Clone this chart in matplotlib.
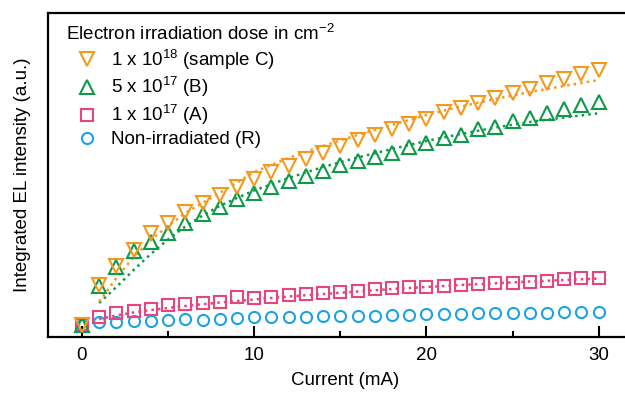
import numpy as np
import matplotlib
matplotlib.use("Agg")
import matplotlib.pyplot as plt

plt.rcParams['font.family'] = ['Liberation Sans', 'DejaVu Sans']
plt.rcParams['mathtext.fontset'] = 'custom'
plt.rcParams['mathtext.rm'] = 'Liberation Sans'
plt.rcParams['mathtext.it'] = 'Liberation Sans:italic'

# measured points, current 0..30 mA in 1 mA steps (a.u.)
current = list(range(31))
sample_c = [1.2, 5.2, 7.13, 8.7, 10.35, 11.37, 12.53, 13.43, 14.2, 14.97, 15.77,
            16.47, 17.1, 17.77, 18.37, 19.05, 19.7, 20.2, 20.8, 21.3, 21.8,
            22.45, 22.87, 23.43, 23.87, 24.37, 24.77, 25.37, 25.77, 26.27, 26.7]
sample_b = [1.2, 5.1, 7.03, 8.6, 9.53, 10.43, 11.43, 12.3, 13.03, 13.77, 14.37,
            14.97, 15.6, 16.1, 16.63, 17.15, 17.6, 18.0, 18.4, 19.0, 19.4,
            19.87, 20.2, 20.8, 21.03, 21.63, 21.93, 22.37, 22.77, 23.2, 23.47]
sample_a = [1.2, 1.97, 2.37, 2.6, 2.83, 3.17, 3.3, 3.37, 3.53, 4.03, 3.87,
            4.03, 4.17, 4.27, 4.37, 4.53, 4.63, 4.77, 4.87, 4.97, 5.03,
            5.1, 5.2, 5.3, 5.37, 5.43, 5.53, 5.63, 5.77, 5.87, 5.93]
sample_r = [1.2, 1.5, 1.5, 1.6, 1.63, 1.7, 1.77, 1.7, 1.77, 1.87, 1.97,
            1.97, 1.97, 2.03, 2.1, 2.1, 2.1, 2.1, 2.2, 2.2, 2.3,
            2.3, 2.3, 2.37, 2.37, 2.37, 2.43, 2.43, 2.5, 2.5, 2.53]

# dotted fit curves
fit_c_x = [1, 2, 3, 4, 5, 6, 8, 10, 12, 14, 16, 18, 20, 22, 24, 26, 28, 30]
fit_c_y = [3.53, 5.9, 8.0, 9.7, 11.1, 12.4, 14.4, 16.5, 17.9, 19.1, 20.2,
           21.2, 22.2, 23.05, 23.8, 24.5, 25.1, 25.7]
fit_b_x = [1, 2, 3, 4, 5, 6, 7, 8, 9, 10, 12, 14, 16, 18, 20, 22, 24, 26, 28, 30]
fit_b_y = [3.4, 5.0, 6.7, 8.3, 9.75, 11.05, 12.15, 13.1, 13.9, 14.65, 15.9,
           17.0, 17.95, 18.8, 19.6, 20.3, 20.95, 21.5, 21.95, 22.37]
fit_a_x = [1, 2, 3, 4, 5, 6, 8, 10, 12, 14, 16, 18, 20, 22, 24, 26, 28, 30]
fit_a_y = [1.8, 2.15, 2.45, 2.7, 2.9, 3.1, 3.45, 3.75, 4.05, 4.3, 4.55,
           4.8, 5.0, 5.2, 5.37, 5.55, 5.7, 5.85]

labels = [r'1 x 10$^{18}$ (sample C)', r'5 x 10$^{17}$ (B)',
          r'1 x 10$^{17}$ (A)', 'Non-irradiated (R)']
colors = ['#f39a1e', '#0e9a48', '#e6457f', '#1ea2e6']
fs = 13.5

fig = plt.figure(figsize=(6.25, 3.93), dpi=100)
ax = fig.add_axes([0.0768, 0.1425, 0.95, 0.8245])

ax.plot(fit_a_x, fit_a_y, ':', color=colors[2], lw=1.8)
ax.plot(fit_b_x, fit_b_y, ':', color=colors[1], lw=1.8)
ax.plot(fit_c_x, fit_c_y, ':', color=colors[0], lw=1.8)

h_r, = ax.plot(current, sample_r, 'o', ms=8, mfc='none', mec=colors[3], mew=1.5, ls='none')
h_a, = ax.plot(current, sample_a, 's', ms=8.2, mfc='none', mec=colors[2], mew=1.5, ls='none')
h_b, = ax.plot(current, sample_b, '^', ms=9.8, mfc='none', mec=colors[1], mew=1.5, ls='none')
h_c, = ax.plot(current, sample_c, 'v', ms=9.8, mfc='none', mec=colors[0], mew=1.5, ls='none')

ax.set_xlim(-1.97, 32.5)
ax.set_ylim(0, 32.4)
ax.set_xticks([0, 10, 20, 30])
ax.set_xticks([5, 15, 25], minor=True)
ax.set_yticks([])
ax.tick_params(axis='x', which='major', direction='in', length=8, width=1.5, labelsize=fs, pad=7)
ax.tick_params(axis='x', which='minor', direction='in', length=4, width=1.5)
for s in ['left', 'bottom', 'top']:
    ax.spines[s].set_linewidth(1.6)
ax.spines['right'].set_visible(False)

ax.set_xlabel('Current (mA)', fontsize=fs, labelpad=6)
ax.set_ylabel('Integrated EL intensity (a.u.)', fontsize=fs, labelpad=12)

leg = ax.legend([h_c, h_b, h_a, h_r], labels,
                title=r'Electron irradiation dose in cm$^{-2}$',
                loc='upper left', bbox_to_anchor=(0.03, 0.967),
                frameon=False, fontsize=fs, title_fontsize=fs,
                alignment='left', borderpad=0, handlelength=2.3,
                handletextpad=0.1, labelspacing=0.2, borderaxespad=0)

fig.savefig('out.png', dpi=100)
